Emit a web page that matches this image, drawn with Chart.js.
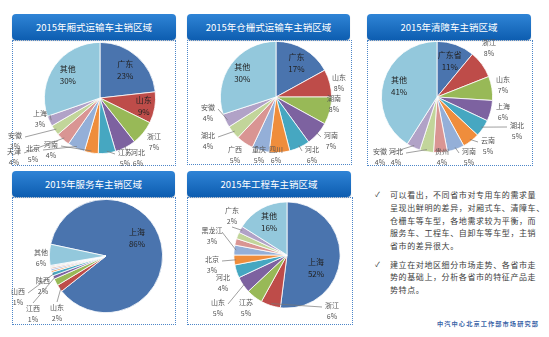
<!DOCTYPE html>
<html>
<head>
<meta charset="utf-8">
<script src="https://cdn.jsdelivr.net/npm/chart.js@4.4.0/dist/chart.umd.min.js"></script>
<style>
  body { margin: 0; width: 549px; height: 337px; background: #fff; position: relative; overflow: hidden;
         font-family: "Noto Sans CJK SC", "Noto Sans", sans-serif; }
  .head { position: absolute; height: 26px; border-radius: 4px; color: #fff; font-size: 9.5px; line-height: 26px;
          text-align: center; background: linear-gradient(#2f84d6, #0d5db0); box-shadow: 0 1px 1px rgba(0,0,0,.25); }
  .box { position: absolute; box-sizing: border-box; border: 1px dotted #4d86c8; }
  canvas { position: absolute; left: 0; top: 0; width: 549px; height: 337px; }
  .note { position: absolute; left: 390px; margin: 0; font-size: 8px; letter-spacing: 0.6px; line-height: 12.75px;
          color: #3c3c3c; white-space: nowrap; }
  .tick { position: absolute; left: 375px; font-size: 7px; color: #333; }
  .foot { position: absolute; left: 437px; top: 319px; font-size: 6.2px; letter-spacing: 1.1px; color: #3b64a8;
          font-weight: bold; white-space: nowrap; }
</style>
</head>
<body>

<div class="tick" style="top:189px">✓</div>
<p class="note" style="top:189px">可以看出，不同省市对专用车的需求量<br>呈现出鲜明的差异，对厢式车、清障车、<br>仓栅车等车型，各地需求较为平衡，而<br>服务车、工程车、自卸车等车型，主销<br>省市的差异很大。</p>
<div class="tick" style="top:259px">✓</div>
<p class="note" style="top:258.5px">建立在对地区细分市场走势、各省市走<br>势的基础上，分析各省市的特征产品走<br>势特点。</p>
<div class="foot">中汽中心北京工作部市场研究部</div>

<script>
// LES DONNEES : -----------------------------------------------------

const boxNames = ['广东', '山东', '浙江', '河北', '江苏', '河南', '北京', '天津', '安徽', '上海', '其他'];
const boxShares = [23, 9, 7, 6, 5, 4, 5, 4, 3, 3, 30];

const stakeNames = ['广东', '山东', '湖南', '河南', '河北', '四川', '重庆', '广西', '湖北', '安徽', '其他'];
const stakeShares = [17, 8, 8, 7, 6, 6, 5, 5, 4, 4, 30];

const wreckerNames = ['广东省', '浙江', '山东', '上海', '湖北', '云南', '河南', '贵州', '河北', '安徽', '其他'];
const wreckerShares = [11, 8, 7, 6, 5, 5, 5, 4, 4, 4, 41];

const serviceNames = ['上海', '山东', '陕西', '江西', '山西', '湖北', '河南', '四川', '江苏', '天津', '其他'];
const serviceShares = [86, 2, 2, 1, 1, 0.5, 0.5, 0.4, 0.3, 0.3, 6];

const engNames = ['上海', '浙江', '江苏', '山东', '河北', '北京', '黑龙江', '天津', '辽宁', '广东', '其他'];
const engShares = [52, 6, 5, 5, 4, 3, 3, 2, 2, 2, 16];

const titles = ['2015年厢式运输车主销区域', '2015年仓栅式运输车主销区域', '2015年清障车主销区域',
                '2015年服务车主销区域', '2015年工程车主销区域'];

// LA MISE EN PAGE : -------------------------------------------------

const sliceColors = ['#4a74ae', '#be4c49', '#98b957', '#7d62a0', '#46a7c1', '#ef8d3c',
                     '#94afd8', '#d99593', '#c2d59a', '#b1a2c7', '#93c8dc'];

// label spot: number = along slice middle (x radius), [dx, dy] = offset from centre, third item 1 = leader line
const panels = [
  { names: boxNames, shares: boxShares, head: [12, 14, 164], box: [12, 40, 164, 126], cx: 100, cy: 98, r: 56, rot: 0,
    spots: [0.68, 0.8, 1.25, [38, 60, 1], [25, 60, 1], [-49, 52, 1], [-67, 56, 1], [-86, 59, 1], [-85, 43, 1], [-60, 21, 1], 0.71] },
  { names: stakeNames, shares: stakeShares, head: [187, 14, 163], box: [187, 40, 165, 125], cx: 276, cy: 97, r: 56, rot: 0,
    spots: [0.72, [63, -14], [58, 7], [55, 44, 1], [36, 58, 1], [0, 58], [-17, 58], [-41, 58], [-68, 44, 1], [-68, 16, 1], 0.75] },
  { names: wreckerNames, shares: wreckerShares, head: [367, 14, 164], box: [367, 40, 166, 126], cx: 437, cy: 97, r: 56, rot: 0,
    spots: [0.68, [52, -49], [66, -12], [66, 15], [80, 34, 1], [51, 49, 1], [32, 60, 1], [5, 60], [-41, 60, 1], [-57, 60, 1], 0.71] },
  { names: serviceNames, shares: serviceShares, head: [12, 171, 163], box: [12, 197, 164, 128], cx: 106, cy: 256, r: 57, rot: -78,
    spots: [[31, -18], [-49, 57, 1], [-63, 30], [-73, 58, 1], [-88, 41, 1], null, null, null, null, null, [-65, 2]] },
  { names: engNames, shares: engShares, head: [187, 171, 164], box: [187, 197, 166, 128], cx: 287, cy: 255, r: 53.5, rot: 0,
    spots: [[29, 13], [45, 56, 1], [-41, 53], [-69, 53, 1], [-64, 28], [-75, 10, 1], [-75, -19, 1], null, null, [-55, -39, 1], 0.7] }
];

// LE PLUGIN DES ETIQUETTES : ----------------------------------------

const sliceLabels = {
  id: 'sliceLabels',
  afterDatasetsDraw(chart, args, opts) {
    const ctx = chart.ctx;
    const meta = chart.getDatasetMeta(0);
    const names = chart.data.labels;
    const vals = chart.data.datasets[0].data;
    meta.data.forEach((arc, i) => {
      const spot = opts.spots[i];
      if (spot == null) return;
      const { x, y, startAngle, endAngle, outerRadius: r } = arc;
      const mid = (startAngle + endAngle) / 2;
      let lx, ly;
      if (typeof spot === 'number') {
        lx = x + Math.cos(mid) * r * spot;
        ly = y + Math.sin(mid) * r * spot;
      } else {
        lx = x + spot[0];
        ly = y + spot[1];
      }
      const inside = Math.hypot(lx - x, ly - y) < r * 0.95;
      ctx.save();
      if (Array.isArray(spot) && spot[2]) {
        const sx = x + Math.cos(mid) * (r - 2);
        const sy = y + Math.sin(mid) * (r - 2);
        let ex, ey;
        if (Math.abs(ly - sy) > Math.abs(lx - sx)) {
          ex = lx; ey = ly - 11 * Math.sign(ly - sy);
        } else {
          ex = lx - 10 * Math.sign(lx - sx); ey = ly - 4;
        }
        ctx.strokeStyle = '#777';
        ctx.lineWidth = 0.7;
        ctx.beginPath();
        ctx.moveTo(sx, sy);
        ctx.lineTo(ex, ey);
        ctx.stroke();
      }
      ctx.textAlign = 'center';
      ctx.textBaseline = 'middle';
      ctx.fillStyle = inside ? '#222' : '#555';
      ctx.font = (inside ? '8px' : '7px') + ' "Noto Sans CJK SC", sans-serif';
      const gap = inside ? 6 : 5.5;
      ctx.fillText(names[i], lx, ly - gap);
      ctx.fillText(Math.round(vals[i]) + '%', lx, ly + gap);
      ctx.restore();
    });
  }
};

// LE DESSIN : -------------------------------------------------------

panels.forEach((p, k) => {
  const head = document.createElement('div');
  head.className = 'head';
  head.style.left = p.head[0] + 'px';
  head.style.top = p.head[1] + 'px';
  head.style.width = p.head[2] + 'px';
  head.textContent = titles[k];
  document.body.appendChild(head);

  const box = document.createElement('div');
  box.className = 'box';
  box.style.left = p.box[0] + 'px';
  box.style.top = p.box[1] + 'px';
  box.style.width = p.box[2] + 'px';
  box.style.height = p.box[3] + 'px';
  document.body.appendChild(box);
});

panels.forEach(p => {
  const cv = document.createElement('canvas');
  cv.width = 549;
  cv.height = 337;
  document.body.appendChild(cv);
  new Chart(cv, {
    type: 'pie',
    data: {
      labels: p.names,
      datasets: [{
        data: p.shares,
        backgroundColor: sliceColors,
        borderColor: '#fff',
        borderWidth: 0.8
      }]
    },
    options: {
      responsive: false,
      animation: false,
      rotation: p.rot,
      layout: { padding: { left: p.cx - p.r, top: p.cy - p.r, right: 549 - p.cx - p.r, bottom: 337 - p.cy - p.r } },
      plugins: {
        legend: { display: false },
        tooltip: { enabled: false },
        sliceLabels: { spots: p.spots }
      }
    },
    plugins: [sliceLabels]
  });
});
</script>
</body>
</html>
